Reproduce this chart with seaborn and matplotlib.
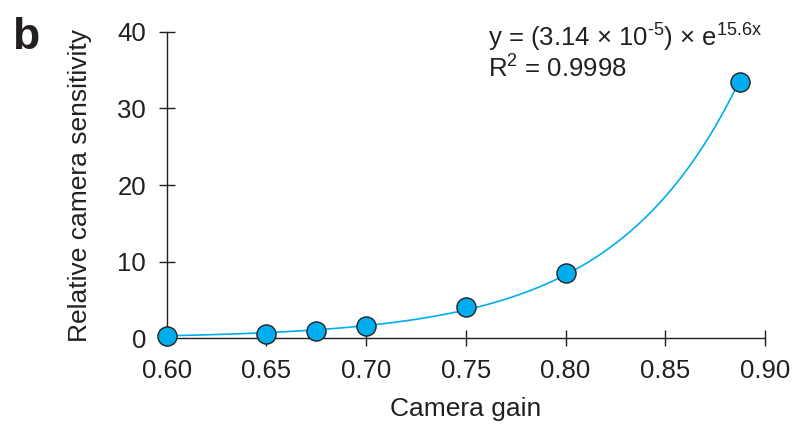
import numpy as np
import pandas as pd
import matplotlib
matplotlib.use("Agg")
import matplotlib.pyplot as plt
import seaborn as sns

gain = [0.60, 0.65, 0.675, 0.70, 0.75, 0.80, 0.8876]
sensitivity = [0.3, 0.56, 1.0, 1.6, 4.15, 8.5, 33.5]
x_ticks = [0.60, 0.65, 0.70, 0.75, 0.80, 0.85, 0.90]
y_ticks = [0, 10, 20, 30, 40]

sns.set_style("ticks")
plt.rcParams['font.family'] = ['Liberation Sans', 'DejaVu Sans']
plt.rcParams['mathtext.fontset'] = 'custom'
plt.rcParams['mathtext.rm'] = 'Liberation Sans'
plt.rcParams['mathtext.default'] = 'regular'

ink = '#231f20'
blue = '#00aeef'

df = pd.DataFrame({'gain': gain, 'sens': sensitivity})

# exponential fit (weighted log-linear)
coef = np.polyfit(df['gain'], np.log(df['sens']), 1, w=np.sqrt(df['sens']))
xs = np.linspace(min(gain), max(gain), 300)
fit = pd.DataFrame({'gain': xs, 'sens': np.exp(np.polyval(coef, xs))})

fig = plt.figure(figsize=(7.94, 4.24), dpi=100)
ax = fig.add_axes([0.210, 0.202, 0.7535, 0.7233])

sns.lineplot(data=fit, x='gain', y='sens', ax=ax, color=blue, lw=1.2, zorder=2)
sns.scatterplot(data=df, x='gain', y='sens', ax=ax, s=190, color=blue,
                edgecolor='#222222', linewidth=1.0, zorder=3, clip_on=False)

ax.set_xlim(0.60, 0.90)
ax.set_ylim(0, 40)
ax.set_xticks(x_ticks)
ax.set_xticklabels([f"{t:.2f}" for t in x_ticks])
ax.set_yticks(y_ticks)
ax.set_yticklabels([str(t) for t in y_ticks])
sns.despine(ax=ax)
for s in ['left', 'bottom']:
    ax.spines[s].set_color(ink)
    ax.spines[s].set_linewidth(1.0)
ax.tick_params(direction='inout', length=11, width=1.0, color=ink,
               labelsize=18.5, labelcolor=ink)
ax.tick_params(axis='x', pad=9.5)
ax.tick_params(axis='y', pad=9.5)
ax.set_xlabel('Camera gain', fontsize=19, color=ink)
ax.set_ylabel('Relative camera sensitivity', fontsize=19, color=ink)
ax.xaxis.set_label_coords(0.5, -0.19)
ax.yaxis.set_label_coords(-0.125, 0.5)

fig.text(488/794, 1 - 47/424, r'y = (3.14 × 10$^{\text{-5}}$) × e$^{15.6x}$',
         fontsize=18.5, color=ink, ha='left', va='baseline')
fig.text(488/794, 1 - 78/424, 'R$^{2}$ = 0.9998',
         fontsize=18.5, color=ink, ha='left', va='baseline')
fig.text(12/794, 1 - 49/424, 'b', fontsize=32, fontweight='bold', color=ink,
         ha='left', va='baseline')

fig.savefig('out.png', dpi=100)
